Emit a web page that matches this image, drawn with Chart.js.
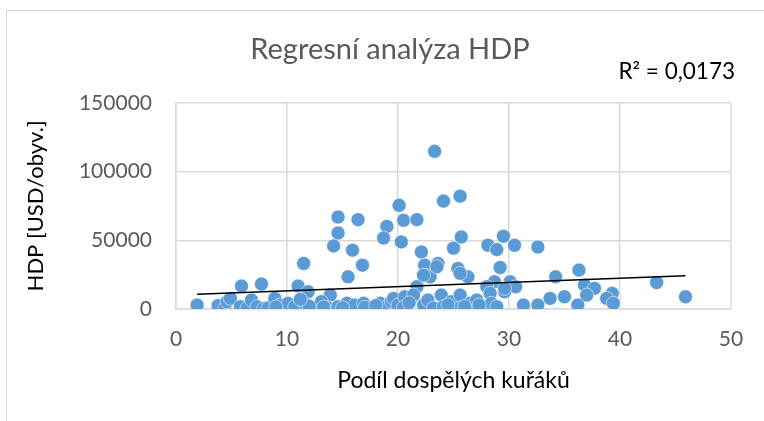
<!DOCTYPE html>
<html>
<head>
<meta charset="utf-8">
<script src="https://cdn.jsdelivr.net/npm/chart.js@4"></script>
<style>
html,body{margin:0;padding:0;background:#fff;}
#wrap{position:relative;width:764px;height:421px;}
#frame{position:absolute;left:6px;top:10px;width:800px;height:450px;border:1px solid #d9d9d9;box-sizing:border-box;}
canvas{position:absolute;left:0;top:0;}
</style>
</head>
<body>
<div id="wrap"><div id="frame"></div><canvas id="c" width="764" height="421"></canvas></div>
<script>
// Smokers share (%) and GDP per capita (USD)
const smokers = [
 23.3,24.1,25.6,20.1,20.5,21.7,14.6,16.4,19.0,18.7,20.3,14.6,14.2,15.9,11.5,16.8,15.5,22.1,22.4,23.6,
 22.5,21.7,25.0,25.7,29.5,28.1,28.9,30.5,32.6,22.9,23.5,25.4,26.3,29.2,28.7,30.1,29.6,30.6,28.0,34.2,
 36.3,36.8,37.7,37.0,39.3,38.8,39.4,43.3,45.9,5.9,7.7,11.0,11.9,13.9,22.3,25.6,29.6,
 1.9,3.8,4.4,4.6,4.9,5.8,6.4,6.8,7.3,7.9,8.3,8.9,9.4,9.8,10.1,10.7,11.6,12.5,13.1,13.7,
 14.6,15.4,16.1,16.9,17.5,18.4,19.0,19.4,19.6,20.0,20.6,21.4,22.3,22.7,23.2,23.9,24.1,24.8,25.6,25.6,
 26.5,27.1,27.7,28.3,28.4,28.9,31.3,32.6,33.7,35.0,36.2,12.0,13.3,15.0,17.0,18.0,20.5,21.0,24.5,26.0,
 27.3,11.2,9.0
];
const gdp = [
 114700,78500,82100,75400,64500,65000,66900,65000,60100,51700,48800,55300,45900,42800,33100,31900,23400,41500,31900,33100,
 24600,16200,44200,52400,52900,46400,43200,46400,45100,23400,30700,29500,23400,30200,19800,19800,12500,16200,16200,23400,
 28300,17400,15000,10100,11400,7700,4100,19300,8900,16700,18100,16700,12500,10100,24600,25900,15000,
 2900,2500,500,5300,7700,1700,500,6500,1700,300,800,7700,2900,300,4100,1700,4100,500,5300,800,
 1700,4100,2900,4100,800,4100,1700,5300,7700,2900,8900,10100,2900,6500,800,10100,1700,5300,10100,800,
 4100,6500,800,11400,4100,1700,2900,2900,7700,8900,2900,2000,1500,900,1200,2500,1200,4500,3000,1800,
 3000,7000,1500
];
// Linear trend line end points
const trendX = [1.9, 45.9];
const trendY = [10650, 24100];
const xTicks = [0,10,20,30,40,50];
const yTicks = [0,50000,100000,150000];
const titleText = 'Regresní analýza HDP';
const r2Text = 'R² = 0,0173';
const xTitle = 'Podíl dospělých kuřáků';
const yTitle = 'HDP [USD/obyv.]';

const FONT = 'Lato, "Open Sans", sans-serif';
const scatter = smokers.map((x,i)=>({x:x,y:gdp[i]}));
const trend = trendX.map((x,i)=>({x:x,y:trendY[i]}));

const r2Plugin = {
  id:'r2',
  afterDraw(chart){
    const ctx = chart.ctx;
    ctx.save();
    ctx.font = '22.5px ' + FONT;
    ctx.fillStyle = '#000';
    ctx.textAlign = 'right';
    ctx.textBaseline = 'middle';
    ctx.fillText(r2Text, 735, 72);
    ctx.restore();
  }
};

new Chart(document.getElementById('c'), {
  type:'scatter',
  data:{datasets:[
    {type:'line', data:trend, borderColor:'#000', borderWidth:1.5, pointRadius:0, fill:false, order:0},
    {data:scatter, backgroundColor:'#5b9bd5', borderColor:'rgba(255,255,255,0.55)', borderWidth:1, pointRadius:7, order:1}
  ]},
  plugins:[r2Plugin],
  options:{
    responsive:false, animation:false,
    layout:{padding:{left:49,right:33,top:0,bottom:0}},
    plugins:{
      legend:{display:false},
      tooltip:{enabled:false},
      title:{display:true, text:titleText, color:'#595959', font:{family:FONT,size:29,weight:'normal'}, padding:{top:32,bottom:36}}
    },
    scales:{
      x:{type:'linear', min:0, max:50,
        afterBuildTicks(s){ s.ticks = xTicks.map(v=>({value:v})); },
        afterFit(s){ s.height = 112; },
        grid:{color:'#d9d9d9', lineWidth:1.5, drawTicks:false},
        border:{color:'#d9d9d9', width:1.5},
        ticks:{color:'#595959', font:{family:FONT,size:21}, padding:18, maxRotation:0},
        title:{display:true, text:xTitle, color:'#000', font:{family:FONT,size:23}, padding:{top:0,bottom:27}}
      },
      y:{type:'linear', min:0, max:150000,
        afterBuildTicks(s){ s.ticks = yTicks.map(v=>({value:v})); },
        afterFit(s){ s.width = 127; },
        grid:{color:'#d9d9d9', lineWidth:1.5, drawTicks:false},
        border:{color:'#d9d9d9', width:1.5},
        ticks:{color:'#595959', font:{family:FONT,size:21}, padding:24, callback:v=>String(v)},
        title:{display:true, text:yTitle, color:'#000', font:{family:FONT,size:22}, padding:{top:-26,bottom:0}}
      }
    }
  }
});
</script>
</body>
</html>
